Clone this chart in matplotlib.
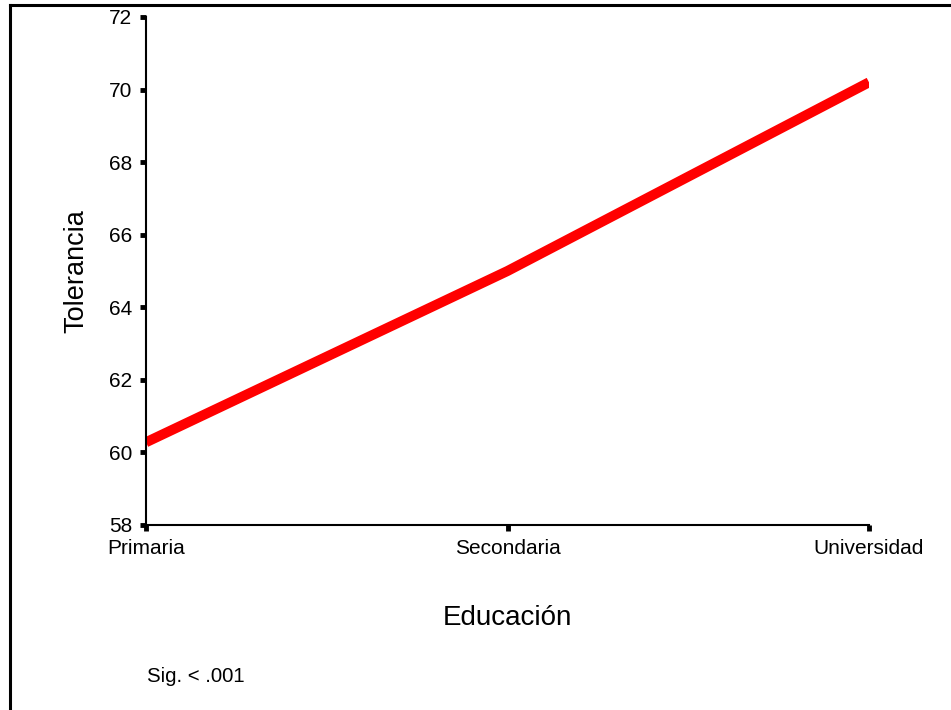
import matplotlib
matplotlib.use("Agg")
import matplotlib.pyplot as plt
from matplotlib.lines import Line2D

plt.rcParams['font.family'] = ['Liberation Sans', 'DejaVu Sans']

categorias = ['Primaria', 'Secondaria', 'Universidad']
tolerancia = [60.28, 65.0, 70.2]
y_ticks = [58, 60, 62, 64, 66, 68, 70, 72]

fig = plt.figure(figsize=(9.51, 7.1), dpi=100)
ax = fig.add_axes([146/951, 1 - 525/710, (869 - 146)/951, (525 - 17)/710])

ax.plot(range(len(categorias)), tolerancia, color='#ff0000', linewidth=7.2,
        solid_capstyle='butt')

ax.set_xlim(0, len(categorias) - 1)
ax.set_ylim(58, 72)
ax.set_xticks(range(len(categorias)))
ax.set_xticklabels(categorias)
ax.set_yticks(y_ticks)
ax.tick_params(axis='both', direction='out', length=4, width=3.5, labelsize=15, pad=6)
ax.tick_params(axis='x', pad=6)

for s in ['top', 'right']:
    ax.spines[s].set_visible(False)
for s in ['left', 'bottom']:
    ax.spines[s].set_linewidth(1.5)
ax.spines['left'].set_zorder(3)

ax.set_ylabel('Tolerancia', fontsize=19.5, labelpad=14)
ax.set_xlabel('Educación', fontsize=20, labelpad=34)
fig.text(147/951, 1 - 676/710, 'Sig. < .001', fontsize=14.7, va='center')

# marco de la figura
fig.add_artist(Line2D([10/951, 10/951], [0, 1 - 5/710], color='black', linewidth=2.2,
                      transform=fig.transFigure))
fig.add_artist(Line2D([10/951, 1], [1 - 5/710, 1 - 5/710], color='black', linewidth=2.2,
                      transform=fig.transFigure))

fig.savefig('out.png', dpi=100)
